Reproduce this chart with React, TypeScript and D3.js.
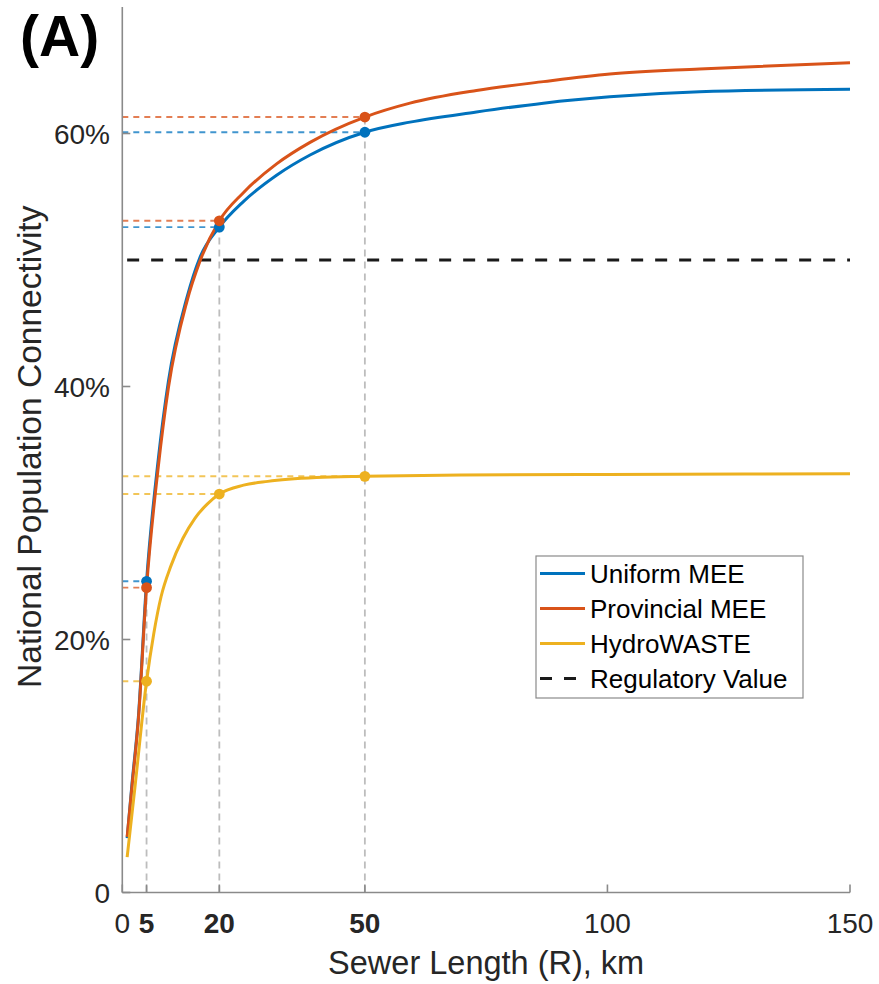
import React from "react";
import * as d3 from "d3";

// ---------- data ----------
const meeX = [1, 2, 3.3, 5, 7.4, 9.5, 13.3, 16, 20, 24.9, 31.8, 38.7, 50, 59.3, 73, 86.8, 100.5, 119, 150];
const uniformMEE = [4.3, 8.6, 13.8, 24.6, 34.2, 40.4, 47.0, 50.2, 52.6, 54.6, 56.7, 58.3, 60.1, 60.9, 61.7, 62.4, 62.9, 63.3, 63.5];
const provincialMEE = [4.4, 8.4, 13.6, 24.1, 33.6, 39.9, 46.7, 49.9, 53.1, 55.3, 57.6, 59.3, 61.3, 62.4, 63.4, 64.1, 64.7, 65.1, 65.6];
const hydroX = [1, 2.6, 5, 6.5, 8, 10, 12.5, 15, 17.5, 20, 25, 30, 40, 50, 70, 100, 150];
const hydroWASTE = [2.8, 8.3, 16.7, 20.5, 23.4, 25.8, 28.0, 29.6, 30.7, 31.5, 32.2, 32.5, 32.8, 32.9, 33.0, 33.05, 33.1];

const markX = [5, 20, 50];
const markUniform = [24.6, 52.6, 60.1];
const markProvincial = [24.1, 53.1, 61.3];
const markHydro = [16.7, 31.5, 32.9];

const regulatoryValue = 50;
const regulatoryRange = [1, 150];

const xTicks = [0, 5, 20, 50, 100, 150];
const xTickBold = [5, 20, 50];
const yTicks = [0, 20, 40, 60];
const yTickLabels = ["0", "20%", "40%", "60%"];

const seriesNames = ["Uniform MEE", "Provincial MEE", "HydroWASTE", "Regulatory Value"];
const colors = ["#0072BD", "#D95319", "#EDB120", "#1a1a1a"];

// ---------- layout ----------
const W = 879;
const H = 984;
const x0 = 122.3;
const x1 = 850;
const yTop = 7;
const yBot = 892.5;
const FONT = "'Liberation Sans', Arial, Helvetica, sans-serif";

export default function App() {
  const x = d3.scaleLinear().domain([0, 150]).range([x0, x1]);
  const y = d3.scaleLinear().domain([0, 70]).range([yBot, yTop]);

  const line = d3
    .line<[number, number]>()
    .x((d) => x(d[0]))
    .y((d) => y(d[1]))
    .curve(d3.curveMonotoneX);

  const series = [
    { xs: meeX, ys: uniformMEE, marks: markUniform, color: colors[0] },
    { xs: meeX, ys: provincialMEE, marks: markProvincial, color: colors[1] },
    { xs: hydroX, ys: hydroWASTE, marks: markHydro, color: colors[2] },
  ];

  const axisColor = "#8a8a8a";
  const textColor = "#262626";

  return (
    <svg
      width={W}
      height={H}
      style={{ position: "absolute", left: 0, top: 0, background: "#fff" }}
      fontFamily={FONT}
    >
      {/* vertical gray guide lines */}
      {markX.map((mx, i) => {
        const top = Math.max(markUniform[i], markProvincial[i], markHydro[i]);
        return (
          <line
            key={"v" + i}
            x1={x(mx)}
            x2={x(mx)}
            y1={y(0)}
            y2={y(top)}
            stroke="#bdbdbd"
            strokeWidth={1.8}
            strokeDasharray="7,5"
          />
        );
      })}

      {/* horizontal colored guide lines */}
      {series.map((s, si) =>
        markX.map((mx, i) => (
          <line
            key={"h" + si + "-" + i}
            x1={x(0)}
            x2={x(mx)}
            y1={y(s.marks[i])}
            y2={y(s.marks[i])}
            stroke={s.color}
            strokeOpacity={0.75}
            strokeWidth={1.9}
            strokeDasharray="6,5"
          />
        ))
      )}

      {/* regulatory value */}
      <line
        x1={x(regulatoryRange[0])}
        x2={x(regulatoryRange[1])}
        y1={y(regulatoryValue)}
        y2={y(regulatoryValue)}
        stroke={colors[3]}
        strokeWidth={2.8}
        strokeDasharray="12,12"
      />

      {/* curves */}
      {series.map((s, si) => (
        <path
          key={"c" + si}
          d={line(s.xs.map((v, i) => [v, s.ys[i]] as [number, number])) || ""}
          fill="none"
          stroke={s.color}
          strokeWidth={3}
          strokeLinejoin="round"
        />
      ))}

      {/* markers */}
      {series.map((s, si) =>
        markX.map((mx, i) => (
          <circle key={"m" + si + "-" + i} cx={x(mx)} cy={y(s.marks[i])} r={5.4} fill={s.color} />
        ))
      )}

      {/* axes */}
      <line x1={x0} x2={x0} y1={yTop} y2={yBot} stroke={axisColor} strokeWidth={1.6} />
      <line x1={x0} x2={x1} y1={yBot} y2={yBot} stroke={axisColor} strokeWidth={1.6} />

      {yTicks.map((t, i) => (
        <g key={"yt" + i}>
          <line x1={x0} x2={x0 + 8} y1={y(t)} y2={y(t)} stroke={axisColor} strokeWidth={1.6} />
          <text
            x={110}
            y={y(t) + 10}
            textAnchor="end"
            fontSize={28}
            fill={textColor}
          >
            {yTickLabels[i]}
          </text>
        </g>
      ))}

      {xTicks.map((t, i) => (
        <g key={"xt" + i}>
          <line x1={x(t)} x2={x(t)} y1={yBot} y2={yBot - 8} stroke={axisColor} strokeWidth={1.6} />
          <text
            x={x(t)}
            y={933}
            textAnchor="middle"
            fontSize={28}
            fontWeight={xTickBold.includes(t) ? "bold" : "normal"}
            fill={textColor}
          >
            {t}
          </text>
        </g>
      ))}

      {/* axis labels */}
      <text x={(x0 + x1) / 2} y={974} textAnchor="middle" fontSize={32.5} fill={textColor}>
        Sewer Length (R), km
      </text>
      <text
        transform={`translate(41, ${(yTop + yBot) / 2 - 3}) rotate(-90)`}
        textAnchor="middle"
        fontSize={33.5}
        fill={textColor}
      >
        National Population Connectivity
      </text>

      {/* panel label */}
      <text x={20} y={56} fontSize={57} fontWeight="bold" fill="#000">
        (A)
      </text>

      {/* legend */}
      <g>
        <rect x={536} y={556} width={267} height={142} fill="#fff" stroke="#8a8a8a" strokeWidth={1.2} />
        {seriesNames.map((name, i) => {
          const cy = 573.5 + i * 35;
          return (
            <g key={"lg" + i}>
              <line
                x1={540}
                x2={585}
                y1={cy}
                y2={cy}
                stroke={colors[i]}
                strokeWidth={i === 3 ? 2.8 : 3}
                strokeDasharray={i === 3 ? "12,12" : undefined}
              />
              <text x={590} y={cy + 9.5} fontSize={26} fill="#000">
                {name}
              </text>
            </g>
          );
        })}
      </g>
    </svg>
  );
}
